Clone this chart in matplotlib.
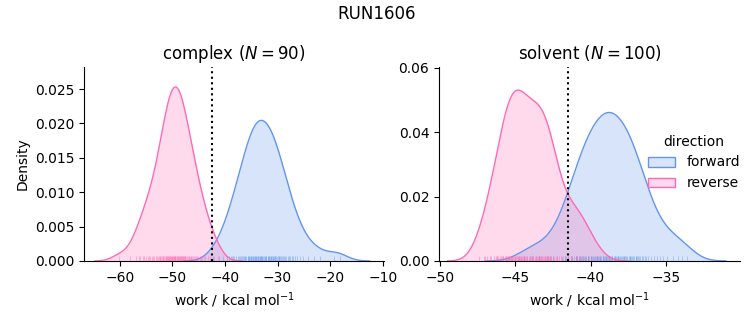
import numpy as np
import matplotlib
matplotlib.use("Agg")
import matplotlib.pyplot as plt
from matplotlib.patches import Patch
from matplotlib.colors import to_rgba

# work values (kcal/mol)
complex_forward = [
    -42.3, -41.2, -40.4, -39.7, -39.3, -38.9, -38.6,
    -38.4, -38.2, -37.9, -37.6,
    -37.4, -37.2, -37.0, -36.8, -36.6,
    -36.4, -36.2, -36.1, -35.9, -35.7, -35.6,
    -35.5, -35.4, -35.3, -35.1, -35.0, -34.8, -34.7, -34.6,
    -34.45, -34.3, -34.2, -34.1, -34.0, -33.9, -33.8, -33.7, -33.6,
    -33.4, -33.3, -33.2, -33.1, -33.0, -32.9, -32.8, -32.6,
    -32.4, -32.3, -32.2, -32.1, -31.9, -31.8, -31.7, -31.6,
    -31.45, -31.3, -31.2, -31.0, -30.9, -30.8, -30.6, -30.55,
    -30.45, -30.3, -30.1, -30.0, -29.8, -29.7, -29.6,
    -29.4, -29.2, -29.0, -28.8, -28.6,
    -28.3, -28.1, -27.8, -27.6,
    -27.3, -27.0, -26.6, -26.2, -25.8,
    -25.1, -24.2, -23.1, -22.0, -19.3, -18.1,
]
complex_reverse = [
    -60.2, -58.1, -56.9, -56.4, -56.1, -55.6, -55.3, -55.0, -54.7,
    -54.4, -54.2, -53.9, -53.6,
    -53.4, -53.2, -53.0, -52.8, -52.6,
    -52.4, -52.3, -52.1, -52.0, -51.8, -51.7, -51.6,
    -51.45, -51.3, -51.2, -51.1, -51.0, -50.9, -50.8, -50.7, -50.6,
    -50.45, -50.4, -50.3, -50.2, -50.1, -50.0, -49.9, -49.8, -49.7, -49.6, -49.55,
    -49.45, -49.4, -49.3, -49.2, -49.1, -49.0, -48.9, -48.8, -48.7, -48.6, -48.55,
    -48.4, -48.3, -48.2, -48.1, -48.0, -47.9, -47.8, -47.7, -47.6, -47.55,
    -47.4, -47.2, -47.1, -46.9, -46.8, -46.6, -46.5,
    -46.4, -46.2, -46.0, -45.8, -45.7, -45.5,
    -45.3, -45.1, -44.8, -44.6,
    -44.3, -44.0, -43.7, -43.2, -42.8, -42.1, -41.3,
]
solvent_forward = [
    -44.4, -43.9, -43.4, -42.9, -42.5,
    -42.2, -41.9, -41.7, -41.6, -41.5, -41.3,
    -41.2, -41.1, -41.0, -40.95, -40.9, -40.8,
    -40.7, -40.65, -40.6, -40.5, -40.45, -40.4, -40.3,
    -40.2, -40.15, -40.1, -40.0, -39.95, -39.9, -39.85, -39.8,
    -39.7, -39.65, -39.6, -39.55, -39.5, -39.45, -39.4, -39.35, -39.3,
    -39.2, -39.15, -39.1, -39.05, -39.0, -38.95, -38.9, -38.85, -38.8,
    -38.75, -38.7, -38.65, -38.6, -38.55, -38.45, -38.4, -38.35, -38.3, -38.25,
    -38.2, -38.15, -38.1, -38.05, -37.95, -37.9, -37.85, -37.8, -37.75,
    -37.7, -37.65, -37.6, -37.45, -37.4, -37.35, -37.3, -37.25,
    -37.2, -37.1, -37.0, -36.95, -36.9, -36.85, -36.8,
    -36.7, -36.6, -36.5, -36.4, -36.3,
    -36.2, -36.0, -35.8, -35.6, -35.4, -35.2, -34.9, -34.5, -34.2,
    -33.9, -33.6,
]
solvent_reverse = [
    -47.4, -47.1, -47.0, -46.9, -46.7, -46.6, -46.4, -46.3,
    -46.2, -46.2, -46.15, -46.05, -45.95, -45.9, -45.85, -45.8,
    -45.7, -45.65, -45.6, -45.55, -45.5, -45.5, -45.45, -45.4, -45.35, -45.3, -45.3, -45.25,
    -45.2, -45.15, -45.1, -45.05, -45.0, -44.95, -44.9, -44.85, -44.8, -44.78, -44.75,
    -44.7, -44.65, -44.6, -44.55, -44.5, -44.45, -44.4, -44.35, -44.3, -44.25,
    -44.2, -44.1, -44.05, -44.0, -43.95, -43.9, -43.85, -43.8,
    -43.7, -43.65, -43.6, -43.55, -43.5, -43.45, -43.4, -43.35, -43.3, -43.3,
    -43.2, -43.15, -43.1, -43.05, -43.0, -42.95, -42.9, -42.85, -42.8,
    -42.75, -42.7, -42.7, -42.65, -42.6, -42.5, -42.4, -42.3,
    -42.2, -42.1, -41.95, -41.8, -41.7, -41.5, -41.3,
    -41.2, -41.0, -40.9, -40.8, -40.7, -40.5, -40.3, -40.0, -39.6,
]

# free energy estimates (dotted lines)
complex_dg = -42.4
solvent_dg = -41.5

directions = ["forward", "reverse"]
colors = {"forward": "cornflowerblue", "reverse": "hotpink"}

panels = [
    ("complex", 90, {"forward": complex_forward, "reverse": complex_reverse}, complex_dg),
    ("solvent", 100, {"forward": solvent_forward, "reverse": solvent_reverse}, solvent_dg),
]

n_total = sum(len(v) for _, _, d, _ in panels for v in d.values())


def kde(values, weight):
    x = np.asarray(values, dtype=float)
    bw = x.std(ddof=1) * len(x) ** (-0.2)
    grid = np.linspace(x.min() - 3 * bw, x.max() + 3 * bw, 200)
    z = (grid[:, None] - x[None, :]) / bw
    dens = np.exp(-0.5 * z ** 2).sum(axis=1) / (len(x) * bw * np.sqrt(2 * np.pi))
    return grid, dens * weight


fig = plt.figure(figsize=(7.53, 3.25), dpi=100)
ax1 = fig.add_axes([84 / 753, 64 / 325, 300 / 753, 194 / 325])
ax2 = fig.add_axes([439 / 753, 64 / 325, 301 / 753, 194 / 325])

xlims = [(-66.8, -9.75), (-50.07, -30.07)]
ylims = [(0, 0.0282), (0, 0.0602)]

for ax, (name, n, data, dg), xl, yl in zip([ax1, ax2], panels, xlims, ylims):
    for d in directions:
        vals = data[d]
        c = colors[d]
        grid, dens = kde(vals, len(vals) / n_total)
        ax.fill_between(grid, 0, dens, color=c, alpha=0.25, linewidth=0)
        ax.plot(grid, dens, color=c, lw=1)
        ax.vlines(vals, 0, 0.025, transform=ax.get_xaxis_transform(),
                  color=c, lw=0.6, alpha=0.5)
    ax.axvline(dg, color="black", ls=":", lw=1.5)
    ax.set_xlim(*xl)
    ax.set_ylim(*yl)
    ax.set_title(f"{name} ($N = {n}$)", fontsize=12)
    ax.set_xlabel("work / kcal mol$^{-1}$")
    ax.spines["top"].set_visible(False)
    ax.spines["right"].set_visible(False)

ax1.set_ylabel("Density")
ax1.set_xticks([-60, -50, -40, -30, -20, -10])
ax1.set_yticks([0, 0.005, 0.01, 0.015, 0.02, 0.025])
ax2.set_xticks([-50, -45, -40, -35])
ax2.set_yticks([0, 0.02, 0.04, 0.06])

handles = [Patch(facecolor=to_rgba(colors[d], 0.25), edgecolor=colors[d], label=d)
           for d in directions]
fig.legend(handles=handles, title="direction", loc="center left",
           bbox_to_anchor=(635 / 753, 0.5), frameon=False, fontsize=10,
           title_fontsize=10)

fig.suptitle("RUN1606", fontsize=12, y=0.985)

fig.savefig("out.png", dpi=100)
